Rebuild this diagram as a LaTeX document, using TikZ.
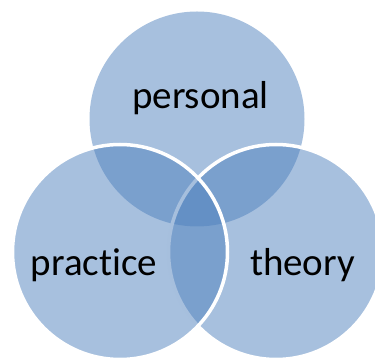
\documentclass[tikz,border=0pt]{standalone}
\usepackage{fontspec}
\setmainfont[Ligatures=NoCommon]{Carlito}
\usepackage{tikz}
\usetikzlibrary{positioning}
\usepackage{xcolor}
\definecolor{vennblue}{HTML}{4F81BD}

\begin{document}
\begin{tikzpicture}[
		x=1pt, y=1pt,
		% Style definitions for the three sets
		venn/.style={circle, minimum size=215pt, inner sep=0pt, fill=vennblue, fill opacity=0.5},
		vennrim/.style={venn, draw=white, draw opacity=1, line width=3.5pt},
		venntext/.style={font=\fontsize{39}{47}\selectfont, anchor=base, inner sep=0pt},
		]
		% === Frame of the picture ===
		\useasboundingbox (0,0) rectangle (375,358);
		\clip (0,0) rectangle (375,358);

		% === Circles: top first, then right, then left on top ===
		\node[venn] (personal) at (197,239) {};
		\node[vennrim] (theory) at (276,106) {};
		\node[vennrim] (practice) at (120,106) {};

		% === Set names ===
		\node[venntext] (personaltext) at (200.5,249) {personal};
		\node[venntext] (practicetext) at (94,82) {practice};
		\node[venntext] (theorytext) at (302.5,82) {theory};

	\end{tikzpicture}
\end{document}
